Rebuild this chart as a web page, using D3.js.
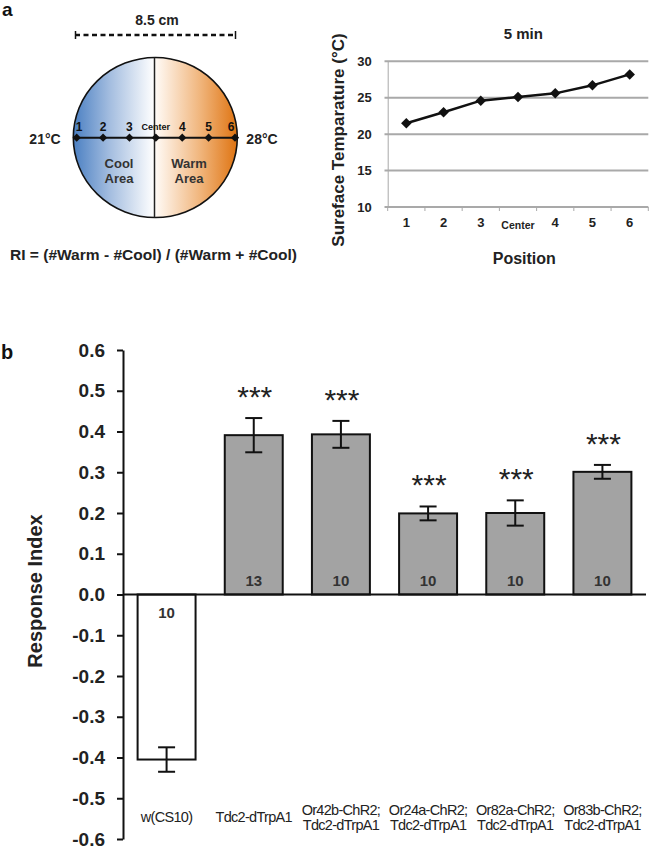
<!DOCTYPE html>
<html>
<head>
<meta charset="utf-8">
<script src="https://cdn.jsdelivr.net/npm/d3@7"></script>
<style>
  html, body { margin: 0; padding: 0; background: #fff; }
  svg { display: block; font-family: "Liberation Sans", Arial, Helvetica, sans-serif; }
</style>
</head>
<body>
<svg id="fig" width="654" height="861"></svg>
<script>
// ---------- DATA ----------
// Panel a: surface temperature at each position after 5 min
const positions = ["1", "2", "3", "Center", "4", "5", "6"];
const temperatures = [21.5, 23.0, 24.6, 25.1, 25.6, 26.7, 28.2];
const tempTicks = [10, 15, 20, 25, 30];

// Panel b: response index per genotype
const genotypes = [
  ["w(CS10)"],
  ["Tdc2-dTrpA1"],
  ["Or42b-ChR2;", "Tdc2-dTrpA1"],
  ["Or24a-ChR2;", "Tdc2-dTrpA1"],
  ["Or82a-ChR2;", "Tdc2-dTrpA1"],
  ["Or83b-ChR2;", "Tdc2-dTrpA1"]
];
const responseIndex = [-0.405, 0.391, 0.393, 0.199, 0.200, 0.301];
const responseSE = [0.030, 0.042, 0.033, 0.017, 0.031, 0.017];
const sampleN = [10, 13, 10, 10, 10, 10];
const significance = ["", "***", "***", "***", "***", "***"];
const riTicks = [0.6, 0.5, 0.4, 0.3, 0.2, 0.1, 0.0, -0.1, -0.2, -0.3, -0.4, -0.5, -0.6];

// ---------- DRAW ----------
const svg = d3.select("#fig");
const BLACK = "#111";

// ===== Panel a: diagram =====
svg.append("text").attr("x", 2).attr("y", 16).attr("font-size", 19).attr("font-weight", "bold")
  .attr("fill", BLACK).text("a");

svg.append("text").attr("x", 157).attr("y", 25).attr("text-anchor", "middle")
  .attr("font-size", 14).attr("font-weight", "bold").attr("fill", "#222").text("8.5 cm");

const dash = svg.append("g").attr("stroke", BLACK).attr("stroke-width", 2.5);
dash.append("line").attr("x1", 75).attr("x2", 236).attr("y1", 35).attr("y2", 35)
  .attr("stroke-dasharray", "5,3.5");
dash.append("line").attr("x1", 75.5).attr("x2", 75.5).attr("y1", 31).attr("y2", 39).attr("stroke-width", 1.5);
dash.append("line").attr("x1", 235.5).attr("x2", 235.5).attr("y1", 31).attr("y2", 39).attr("stroke-width", 1.5);

const defs = svg.append("defs");
const grad = defs.append("linearGradient").attr("id", "dishGrad")
  .attr("gradientUnits", "userSpaceOnUse").attr("x1", 73).attr("x2", 237).attr("y1", 0).attr("y2", 0);
grad.append("stop").attr("offset", "0%").attr("stop-color", "#4a7fc2");
grad.append("stop").attr("offset", "22%").attr("stop-color", "#a2bcdf");
grad.append("stop").attr("offset", "49.5%").attr("stop-color", "#ffffff");
grad.append("stop").attr("offset", "50.5%").attr("stop-color", "#fffaf5");
grad.append("stop").attr("offset", "78%").attr("stop-color", "#f0b47a");
grad.append("stop").attr("offset", "100%").attr("stop-color", "#df7412");

const cx = 155.3, cy = 137.5, rx = 82, ry = 80;
svg.append("ellipse").attr("cx", cx).attr("cy", cy).attr("rx", rx).attr("ry", ry)
  .attr("fill", "url(#dishGrad)").attr("stroke", BLACK).attr("stroke-width", 1.6);
svg.append("line").attr("x1", 154.5).attr("x2", 154.5).attr("y1", cy - ry).attr("y2", cy + ry)
  .attr("stroke", "#222").attr("stroke-width", 1.5);

const dPos = d3.scalePoint().domain(positions).range([76.7, 235]);
svg.append("line").attr("x1", cx - rx).attr("x2", cx + rx).attr("y1", 137.7).attr("y2", 137.7)
  .attr("stroke", BLACK).attr("stroke-width", 2);
svg.append("g").selectAll("path").data(positions).join("path")
  .attr("transform", d => `translate(${dPos(d)},137.7)`)
  .attr("d", d3.symbol(d3.symbolDiamond2, 44)).attr("fill", BLACK);
svg.append("g").selectAll("text").data(positions).join("text")
  .attr("x", (d, i) => dPos(d) + (i === 0 ? 2.5 : i === positions.length - 1 ? -4 : 0))
  .attr("y", d => d === "Center" ? 130 : 131)
  .attr("text-anchor", "middle")
  .attr("font-size", d => d === "Center" ? 9 : 12).attr("font-weight", "bold").attr("fill", BLACK)
  .text(d => d);

svg.append("text").attr("x", 45).attr("y", 144).attr("text-anchor", "middle")
  .attr("font-size", 14).attr("font-weight", "bold").attr("fill", "#222").text("21°C");
svg.append("text").attr("x", 262).attr("y", 144).attr("text-anchor", "middle")
  .attr("font-size", 14).attr("font-weight", "bold").attr("fill", "#222").text("28°C");

[["Cool", "Area", 119], ["Warm", "Area", 189]].forEach(([a, b, x]) => {
  svg.append("text").attr("x", x).attr("y", 168).attr("text-anchor", "middle")
    .attr("font-size", 13).attr("font-weight", "bold").attr("fill", "#333").text(a);
  svg.append("text").attr("x", x).attr("y", 183).attr("text-anchor", "middle")
    .attr("font-size", 13).attr("font-weight", "bold").attr("fill", "#333").text(b);
});

svg.append("text").attr("x", 10).attr("y", 260).attr("font-size", 14).attr("font-weight", "bold")
  .attr("fill", "#222").attr("textLength", 287).attr("lengthAdjust", "spacingAndGlyphs")
  .text("RI = (#Warm - #Cool) / (#Warm + #Cool)");

// ===== Panel a: line chart =====
const lx = d3.scaleBand().domain(positions).range([387.7, 648.3]);
const ly = d3.scaleLinear().domain([10, 30]).range([207, 61.3]);
const GRID = "#a9a9a9";

const gy = svg.append("g").attr("transform", "translate(387.7,0)")
  .call(d3.axisLeft(ly).tickValues(tempTicks).tickSize(0).tickPadding(16).tickFormat(d3.format("d")));
gy.select(".domain").attr("stroke", GRID).attr("stroke-width", 1);
gy.selectAll("text").attr("font-size", 13).attr("font-weight", "bold").attr("fill", "#222")
  .attr("font-family", "Liberation Sans, Arial, sans-serif");

svg.append("g").selectAll("line").data(tempTicks).join("line")
  .attr("x1", 384.5).attr("x2", 648.3).attr("y1", d => ly(d)).attr("y2", d => ly(d))
  .attr("stroke", GRID).attr("stroke-width", 2);

// x ticks at band boundaries
const bounds = positions.map(p => lx(p)).concat([lx.range()[1]]);
svg.append("g").selectAll("line").data(bounds).join("line")
  .attr("x1", d => d).attr("x2", d => d).attr("y1", 207).attr("y2", 211)
  .attr("stroke", GRID).attr("stroke-width", 1);

svg.append("g").selectAll("text").data(positions).join("text")
  .attr("x", d => lx(d) + lx.bandwidth() / 2)
  .attr("y", d => d === "Center" ? 229 : 227)
  .attr("text-anchor", "middle")
  .attr("font-size", d => d === "Center" ? 10.5 : 13).attr("font-weight", "bold").attr("fill", "#222")
  .text(d => d);

const tdata = positions.map((p, i) => ({ p, v: temperatures[i] }));
svg.append("path").datum(tdata)
  .attr("fill", "none").attr("stroke", BLACK).attr("stroke-width", 2.5)
  .attr("d", d3.line().x(d => lx(d.p) + lx.bandwidth() / 2).y(d => ly(d.v)));
svg.append("g").selectAll("path").data(tdata).join("path")
  .attr("transform", d => `translate(${lx(d.p) + lx.bandwidth() / 2},${ly(d.v)})`)
  .attr("d", d3.symbol(d3.symbolDiamond2, 70)).attr("fill", BLACK);

svg.append("text").attr("x", 523.3).attr("y", 38.5).attr("text-anchor", "middle")
  .attr("font-size", 15).attr("font-weight", "bold").attr("fill", "#222").text("5 min");
svg.append("text").attr("x", 524.3).attr("y", 264).attr("text-anchor", "middle")
  .attr("font-size", 16).attr("font-weight", "bold").attr("fill", "#222").text("Position");
svg.append("text").attr("transform", "translate(344,140) rotate(-90)").attr("text-anchor", "middle")
  .attr("font-size", 17).attr("font-weight", "bold").attr("fill", "#222").text("Sureface Temparature (°C)");

// ===== Panel b: bar chart =====
svg.append("text").attr("x", 1).attr("y", 359).attr("font-size", 20).attr("font-weight", "bold")
  .attr("fill", BLACK).text("b");

const bx = d3.scaleBand().domain(d3.range(genotypes.length)).range([123, 646])
  .paddingInner(0.335).paddingOuter(0.1675);
const by = d3.scaleLinear().domain([-0.6, 0.6]).range([839, 350]);

const ax = svg.append("g").attr("transform", "translate(123,0)")
  .call(d3.axisLeft(by).tickValues(riTicks).tickSize(6).tickSizeOuter(0).tickPadding(12)
    .tickFormat(d => (Math.abs(d) < 1e-9 ? 0 : d).toFixed(1)));
ax.select(".domain").attr("stroke", BLACK).attr("stroke-width", 2);
ax.selectAll(".tick line").attr("stroke", BLACK).attr("stroke-width", 2);
ax.selectAll("text").attr("font-size", 19).attr("font-weight", "bold").attr("fill", "#222")
  .attr("font-family", "Liberation Sans, Arial, sans-serif");

svg.append("text").attr("transform", "translate(42,591) rotate(-90)").attr("text-anchor", "middle")
  .attr("font-size", 20).attr("font-weight", "bold").attr("fill", "#222").text("Response Index");

const bdata = genotypes.map((g, i) => ({
  i, label: g, v: responseIndex[i], se: responseSE[i], n: sampleN[i], sig: significance[i]
}));

svg.append("g").selectAll("rect").data(bdata).join("rect")
  .attr("x", d => bx(d.i)).attr("width", bx.bandwidth())
  .attr("y", d => by(Math.max(0, d.v))).attr("height", d => Math.abs(by(d.v) - by(0)))
  .attr("fill", d => d.i === 0 ? "#ffffff" : "#a3a3a3")
  .attr("stroke", BLACK).attr("stroke-width", 2);

// zero line
svg.append("line").attr("x1", 123).attr("x2", 646).attr("y1", by(0)).attr("y2", by(0))
  .attr("stroke", BLACK).attr("stroke-width", 2.2);

// error bars
const eb = svg.append("g").attr("stroke", BLACK).attr("stroke-width", 2);
bdata.forEach(d => {
  const c = bx(d.i) + bx.bandwidth() / 2;
  const hi = by(d.v + d.se), lo = by(d.v - d.se);
  eb.append("line").attr("x1", c).attr("x2", c).attr("y1", hi).attr("y2", lo);
  eb.append("line").attr("x1", c - 8.5).attr("x2", c + 8.5).attr("y1", hi).attr("y2", hi);
  eb.append("line").attr("x1", c - 8.5).attr("x2", c + 8.5).attr("y1", lo).attr("y2", lo);
});

// significance
svg.append("g").selectAll("text").data(bdata.filter(d => d.sig)).join("text")
  .attr("x", d => bx(d.i) + bx.bandwidth() / 2 + 1)
  .attr("y", d => by(d.v + d.se) - 11)
  .attr("text-anchor", "middle").attr("font-size", 30).attr("fill", "#222")
  .text(d => d.sig);

// n labels
svg.append("g").selectAll("text").data(bdata).join("text")
  .attr("x", d => bx(d.i) + bx.bandwidth() / 2)
  .attr("y", d => d.v >= 0 ? by(0) - 8.5 : by(0) + 23.5)
  .attr("text-anchor", "middle").attr("font-size", 15).attr("font-weight", "bold").attr("fill", "#333")
  .text(d => d.n);

// category labels
const lab = svg.append("g").selectAll("text").data(bdata).join("text")
  .attr("text-anchor", "middle").attr("font-size", 14.5).attr("fill", "#222")
  .attr("letter-spacing", -0.7);
lab.each(function (d) {
  const c = bx(d.i) + bx.bandwidth() / 2;
  const t = d3.select(this);
  if (d.label.length === 1) {
    t.append("tspan").attr("x", c).attr("y", 822).text(d.label[0]);
  } else {
    t.append("tspan").attr("x", c).attr("y", 815).text(d.label[0]);
    t.append("tspan").attr("x", c).attr("y", 830).text(d.label[1]);
  }
});
</script>
</body>
</html>
